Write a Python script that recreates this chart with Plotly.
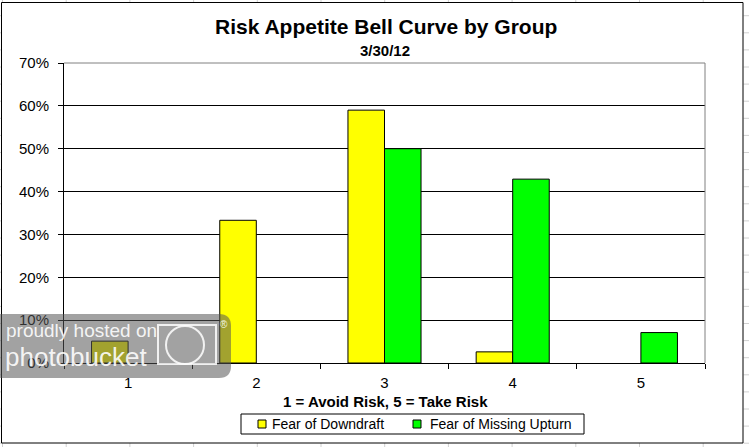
import plotly.graph_objects as go

# ---------------- data ----------------
categories = ["1", "2", "3", "4", "5"]
fear_of_downdraft = [0.051, 0.333, 0.590, 0.026, 0.0]
fear_of_missing_upturn = [0.0, 0.0, 0.500, 0.429, 0.071]
series_names = ["Fear of Downdraft", "Fear of Missing Upturn"]
series_colors = ["#FFFF00", "#00FF00"]
y_tickvals = [0, 0.1, 0.2, 0.3, 0.4, 0.5, 0.6, 0.7]

title_text = "Risk Appetite Bell Curve by Group"
subtitle_text = "3/30/12"
x_title_text = "1 = Avoid Risk, 5 = Take Risk"

# ---------------- geometry (pixels) ----------------
W, H = 749, 447
L, R, T, B = 64, 705, 63, 363  # plot area


def px(x):
    return (x - L) / (R - L)


def py(y):
    return (B - y) / (B - T)


FONT = "Arial, Liberation Sans, sans-serif"

fig = go.Figure()
for name, vals, col in zip(series_names, [fear_of_downdraft, fear_of_missing_upturn], series_colors):
    fig.add_trace(go.Bar(
        x=categories, y=vals, name=name, showlegend=False,
        marker=dict(color=col, line=dict(color="black", width=[1 if v > 0 else 0 for v in vals])),
    ))

shapes = []
# spreadsheet cell lines outside the chart object
for k in range(27):
    yy = 15.7 + 17.1 * k
    if yy < H:
        for x0, x1 in [(743.5, 749), (0, 1.5)]:
            shapes.append(dict(type="line", xref="paper", yref="paper",
                               x0=px(x0), x1=px(x1), y0=py(yy), y1=py(yy),
                               line=dict(color="#d0d0d0", width=1), layer="below"))
for k in range(12):
    xx = 2.5 + 63.7 * k
    for y0, y1 in [(0, 2.5), (443, 447)]:
        shapes.append(dict(type="line", xref="paper", yref="paper",
                           x0=px(xx), x1=px(xx), y0=py(y0), y1=py(y1),
                           line=dict(color="#d0d0d0", width=1), layer="below"))
# chart object border
shapes.append(dict(type="rect", xref="paper", yref="paper",
                   x0=px(1.5), x1=px(743), y0=py(2.5), y1=py(443),
                   line=dict(color="black", width=1), layer="below"))
# plot area grey border (top and right)
shapes.append(dict(type="line", xref="paper", yref="paper", x0=0, x1=1, y0=1, y1=1,
                   line=dict(color="#808080", width=1), layer="above"))
shapes.append(dict(type="line", xref="paper", yref="paper", x0=1, x1=1, y0=0, y1=1,
                   line=dict(color="#808080", width=1), layer="above"))

# legend box
shapes.append(dict(type="rect", xref="paper", yref="paper",
                   x0=px(241), x1=px(584), y0=py(414), y1=py(434),
                   line=dict(color="black", width=1), fillcolor="white", layer="above"))
legend_swatch_x = [258, 413]
legend_text_x = [270, 428]
for sx, col in zip(legend_swatch_x, series_colors):
    shapes.append(dict(type="rect", xref="paper", yref="paper",
                       x0=px(sx), x1=px(sx + 8), y0=py(420), y1=py(428),
                       line=dict(color="black", width=1), fillcolor=col, layer="above"))

# watermark overlay (rounded translucent box)
wx0, wx1, wy0, wy1, rr = -2, 231, 314, 378, 12
path = (f"M {px(wx0)},{py(wy0)} L {px(wx1 - rr)},{py(wy0)} "
        f"Q {px(wx1)},{py(wy0)} {px(wx1)},{py(wy0 + rr)} "
        f"L {px(wx1)},{py(wy1 - rr)} Q {px(wx1)},{py(wy1)} {px(wx1 - rr)},{py(wy1)} "
        f"L {px(wx0)},{py(wy1)} Z")
shapes.append(dict(type="path", xref="paper", yref="paper", path=path,
                   fillcolor="rgba(85,85,85,0.55)", line=dict(width=0), layer="above"))
# camera icon
shapes.append(dict(type="rect", xref="paper", yref="paper",
                   x0=px(158), x1=px(216), y0=py(325), y1=py(364),
                   line=dict(color="rgba(255,255,255,0.85)", width=2), layer="above"))
shapes.append(dict(type="circle", xref="paper", yref="paper",
                   x0=px(166), x1=px(204), y0=py(326), y1=py(364),
                   line=dict(color="rgba(255,255,255,0.85)", width=2),
                   fillcolor="rgba(0,0,0,0)", layer="above"))

annotations = [
    dict(text=f"<b>{title_text}</b>", x=px(385.5), y=py(26), xref="paper", yref="paper",
         showarrow=False, xanchor="center", yanchor="middle",
         font=dict(family=FONT, size=21, color="black")),
    dict(text=f"<b>{subtitle_text}</b>", x=px(385), y=py(50), xref="paper", yref="paper",
         showarrow=False, xanchor="center", yanchor="middle",
         font=dict(family=FONT, size=15, color="black")),
    dict(text=f"<b>{x_title_text}</b>", x=px(385), y=py(401), xref="paper", yref="paper",
         showarrow=False, xanchor="center", yanchor="middle",
         font=dict(family=FONT, size=15, color="black")),
]
for tx, name in zip(legend_text_x, series_names):
    annotations.append(dict(text=name, x=px(tx), y=py(424), xref="paper", yref="paper",
                            showarrow=False, xanchor="left", yanchor="middle",
                            font=dict(family=FONT, size=14, color="black")))
annotations += [
    dict(text="proudly hosted on", x=px(4), y=py(330), xref="paper", yref="paper",
         showarrow=False, xanchor="left", yanchor="middle",
         font=dict(family=FONT, size=19, color="rgba(255,255,255,0.9)")),
    dict(text="photobucket", x=px(3), y=py(357), xref="paper", yref="paper",
         showarrow=False, xanchor="left", yanchor="middle",
         font=dict(family=FONT, size=26, color="rgba(255,255,255,0.9)")),
    dict(text="®", x=px(224), y=py(324), xref="paper", yref="paper",
         showarrow=False, xanchor="center", yanchor="middle",
         font=dict(family=FONT, size=10, color="rgba(255,255,255,0.9)")),
]

fig.update_layout(
    width=W, height=H, autosize=False,
    margin=dict(l=L, r=W - R, t=T, b=H - B, pad=0, autoexpand=False),
    paper_bgcolor="white", plot_bgcolor="white",
    barmode="group", bargap=0.43, bargroupgap=0.0,
    font=dict(family=FONT, size=15, color="black"),
    showlegend=False,
    shapes=shapes,
    annotations=annotations,
)
fig.update_xaxes(
    type="category", showgrid=False, showline=True, linecolor="black", linewidth=1,
    ticks="outside", ticklen=5, tickcolor="black", tickson="boundaries",
    tickfont=dict(family=FONT, size=15, color="black"), zeroline=False, automargin=False,
    ticklabelstandoff=6,
)
fig.update_yaxes(
    range=[0, 0.7], tickvals=y_tickvals, tickformat=".0%",
    showgrid=True, gridcolor="black", gridwidth=1,
    showline=True, linecolor="black", linewidth=1,
    ticks="outside", ticklen=5, tickcolor="black",
    tickfont=dict(family=FONT, size=15, color="black"), zeroline=False,
    ticklabelstandoff=6, automargin=False,
)

fig.write_html(
    "out.html",
    config={"displayModeBar": False},
    post_script="document.body.style.margin='0px';document.body.style.overflow='hidden';",
)
